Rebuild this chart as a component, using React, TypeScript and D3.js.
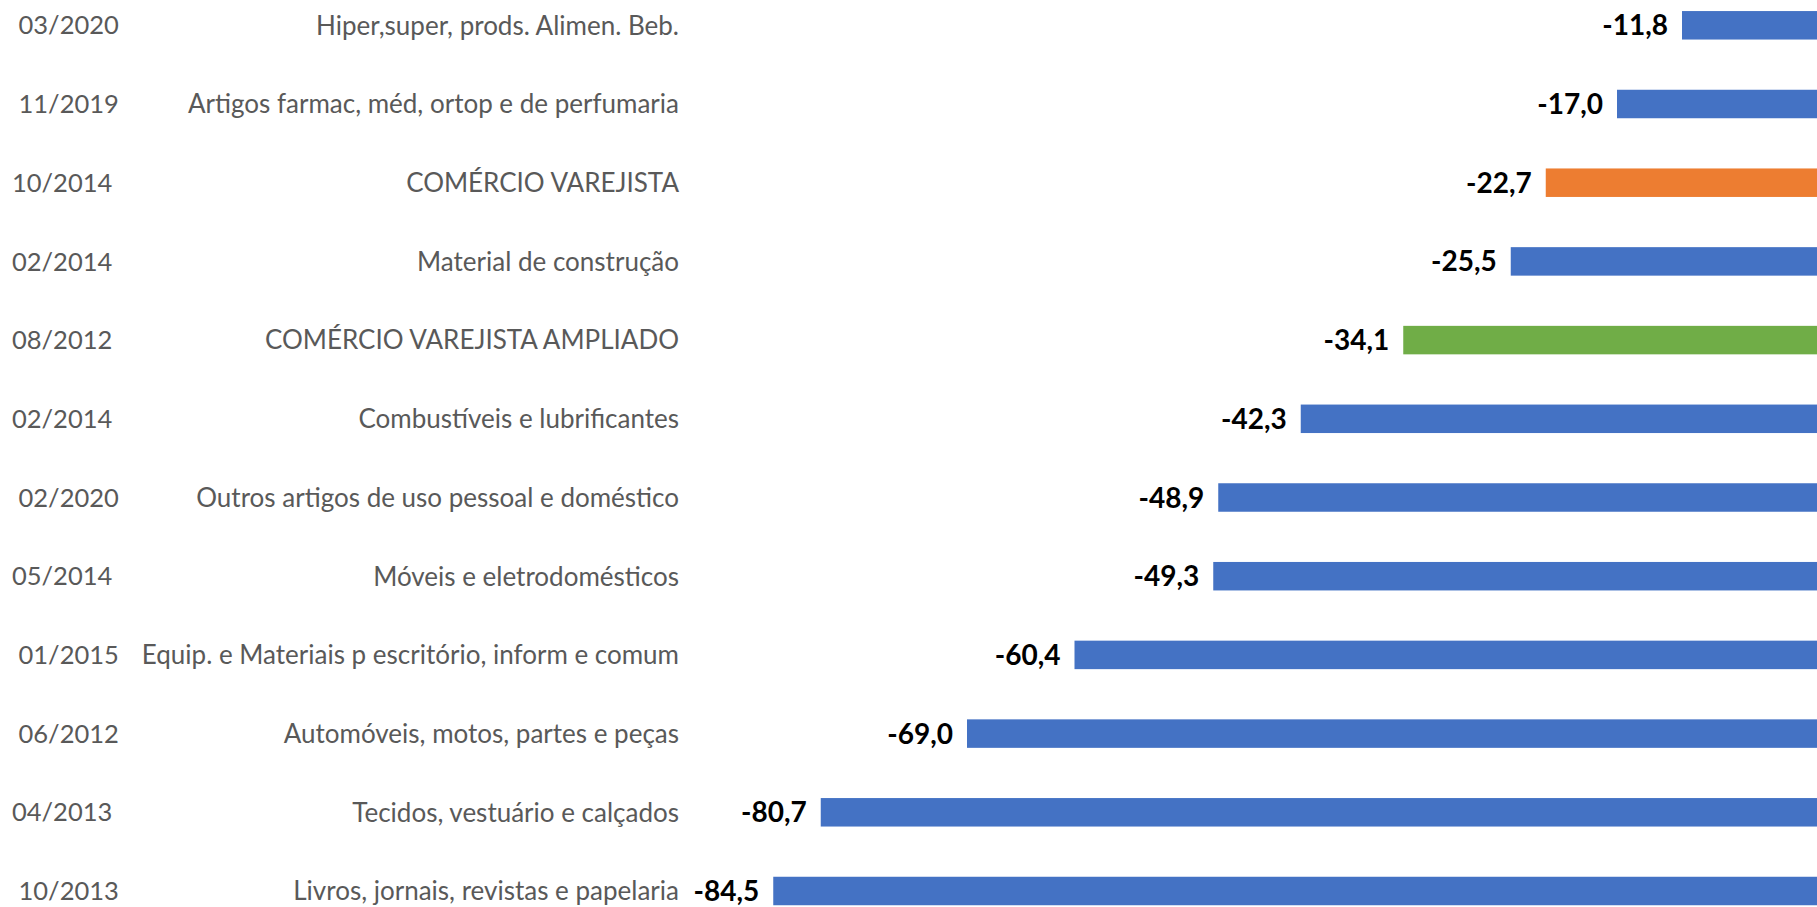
import React from "react";
import * as d3 from "d3";

const dates = [" 03/2020", " 11/2019", "10/2014", "02/2014", "08/2012", "02/2014", " 02/2020", "05/2014", " 01/2015", " 06/2012", "04/2013", " 10/2013"];
const categories = [
  "Hiper,super, prods. Alimen. Beb.",
  "Artigos farmac, méd, ortop e de perfumaria",
  "COMÉRCIO VAREJISTA",
  "Material de construção",
  "COMÉRCIO VAREJISTA AMPLIADO",
  "Combustíveis e lubrificantes",
  "Outros artigos de uso pessoal e doméstico",
  "Móveis e eletrodomésticos",
  "Equip. e Materiais p escritório, inform e comum",
  "Automóveis, motos, partes e peças",
  "Tecidos, vestuário e calçados",
  "Livros, jornais, revistas e papelaria",
];
const values = [-11.8, -17.0, -22.7, -25.5, -34.1, -42.3, -48.9, -49.3, -60.4, -69.0, -80.7, -84.5];
const groups = ["seg", "seg", "total", "seg", "ampliado", "seg", "seg", "seg", "seg", "seg", "seg", "seg"];

const colorMap: Record<string, string> = { seg: "#4472C4", total: "#ED7D31", ampliado: "#70AD47" };

const W = 1817;
const H = 907;

export default function App() {
  const x = d3.scaleLinear().domain([-90, 0]).range([704.5, 1829.5]);
  const step = 78.7;
  const idx = values.map((_, i) => String(i));
  const y = d3
    .scaleBand()
    .domain(idx)
    .range([25.3 - step / 2, 25.3 - step / 2 + step * values.length])
    .paddingInner(0.638)
    .paddingOuter(0.319);
  const bw = y.bandwidth();
  const fmt = (v: number) => d3.format(".1f")(v).replace("−", "-").replace(".", ",");

  return (
    <svg
      width={W}
      height={H}
      style={{ position: "absolute", left: 0, top: 0, background: "#fff" }}
      fontFamily="Lato, 'Open Sans', sans-serif"
    >
      {values.map((v, i) => {
        const yc = (y(String(i)) as number) + bw / 2;
        return (
          <g key={i}>
            <text x={12} y={yc} dy="0.36em" fontSize={25.5} fill="#595959" style={{ whiteSpace: "pre" }}>
              {dates[i]}
            </text>
            <text x={679} y={yc} dy="0.36em" fontSize={26} fill="#595959" textAnchor="end">
              {categories[i]}
            </text>
            <rect
              x={x(v)}
              y={y(String(i)) as number}
              width={x(0) - x(v)}
              height={bw}
              fill={colorMap[groups[i]]}
            />
            <text
              x={x(v) - 14}
              y={yc}
              dy="0.36em"
              fontSize={28}
              fontWeight="bold"
              fill="#000"
              textAnchor="end"
            >
              {fmt(v)}
            </text>
          </g>
        );
      })}
    </svg>
  );
}
